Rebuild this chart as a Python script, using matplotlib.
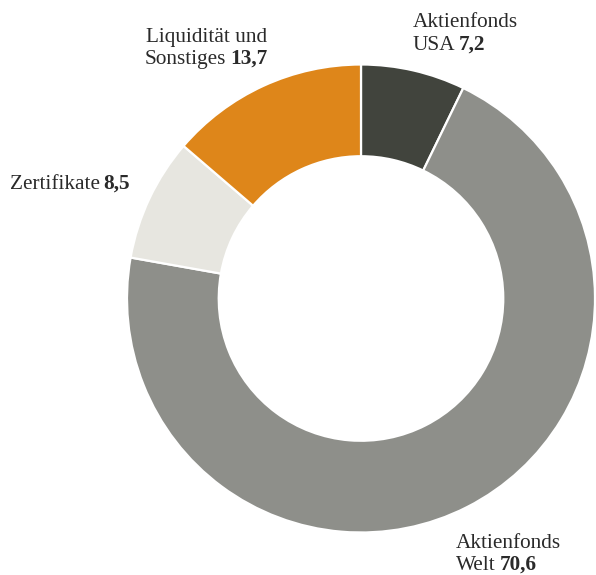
import matplotlib
matplotlib.use('Agg')
import matplotlib.pyplot as plt

# Data (Anteile in %)
labels_top = ['Aktienfonds', 'Aktienfonds', '', 'Liquidität und']
labels_bottom = ['USA', 'Welt', 'Zertifikate', 'Sonstiges']
values = [7.2, 70.6, 8.5, 13.7]
value_text = ['7,2', '70,6', '8,5', '13,7']
colors = ['#41443d', '#8e8f8a', '#e7e6e0', '#de861a']

W, H = 596, 575
fig = plt.figure(figsize=(W / 100, H / 100), dpi=100)
fig.patch.set_facecolor('white')

# donut: centre (361, 298.5) px, outer radius 234 px
cx, cy, r = 361, 298.5, 234
ax = fig.add_axes([(cx - r) / W, (H - cy - r) / H, 2 * r / W, 2 * r / H])
ax.pie(values, colors=colors, startangle=90, counterclock=False, radius=1.0,
       wedgeprops=dict(width=0.392, edgecolor='white', linewidth=1.6))
ax.set_aspect('equal')
ax.set_xlim(-1, 1)
ax.set_ylim(-1, 1)
ax.axis('off')

# overlay axes in pixel coordinates for labels
tx = fig.add_axes([0, 0, 1, 1])
tx.set_xlim(0, W)
tx.set_ylim(H, 0)
tx.axis('off')

font = dict(family='Liberation Serif', size=15.3, color='#2a2a2a')
# (x, baseline line 1, baseline line 2, alignment)
label_pos = [(413, 27, 50, 'left'), (456, 548, 570, 'left'),
             (10, None, 189, 'left'), (267, 42, 64, 'right')]

for top, bot, num, (x, y1, y2, ha) in zip(labels_top, labels_bottom, value_text, label_pos):
    if top:
        tx.text(x, y1, top, ha=ha, va='baseline', **font)
    if ha == 'left':
        t = tx.text(x, y2, bot, ha='left', va='baseline', **font)
        tx.annotate(num, xy=(1, 0), xycoords=t, xytext=(2.6, 0), textcoords='offset points',
                    ha='left', va='bottom', fontweight='bold', **font)
    else:
        n = tx.text(x, y2, num, ha='right', va='baseline', fontweight='bold', **font)
        tx.annotate(bot, xy=(0, 0), xycoords=n, xytext=(-2.6, 0), textcoords='offset points',
                    ha='right', va='bottom', **font)

fig.savefig('out.png', dpi=100, facecolor='white')
